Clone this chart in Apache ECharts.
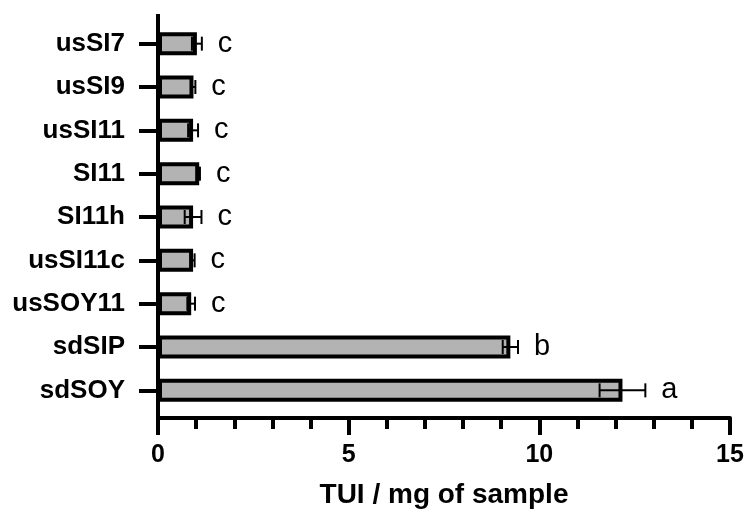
<!DOCTYPE html>
<html>
	<head>
		<meta charset="utf-8" />
		<title>TUI</title>
		<script src="https://cdn.jsdelivr.net/npm/echarts@6/dist/echarts.min.js"></script>
		<style>
			body { margin: 0; background: #fff; }
		</style>
	</head>
	<body>
		<div id="chart" style="width:747px;height:514px;"></div>
	</body>
	<script type="text/javascript">
	// samples, top to bottom
	var samples = ['usSI7', 'usSI9', 'usSI11', 'SI11', 'SI11h', 'usSI11c', 'usSOY11', 'sdSIP', 'sdSOY'];
	// TUI / mg of sample
	var means = [1.02, 0.93, 0.92, 1.08, 0.92, 0.92, 0.87, 9.24, 12.18];
	var errs = [0.13, 0.05, 0.13, 0.02, 0.22, 0.04, 0.10, 0.20, 0.60];
	var letters = ['c', 'c', 'c', 'c', 'c', 'c', 'c', 'b', 'a'];

	var font = '"Liberation Sans", Arial, sans-serif';

	var errData = [];
	for (var i = 0; i < samples.length; i++) {
		errData.push([i, means[i] - errs[i], means[i] + errs[i]]);
	}

	var myChart = echarts.init(document.getElementById('chart'));
	var option = {
		animation: false,
		grid: {
			left: 158,
			right: 17,
			top: 22,
			bottom: 101
		},
		xAxis: {
			type: 'value',
			min: 0,
			max: 15,
			interval: 5,
			offset: 6,
			name: 'TUI / mg of sample',
			nameLocation: 'middle',
			nameGap: 63,
			nameTextStyle: { fontFamily: font, fontWeight: 'bold', fontSize: 28, color: '#000' },
			axisLine: { show: true, lineStyle: { color: '#000', width: 4 } },
			axisTick: { show: true, length: 17, lineStyle: { color: '#000', width: 4 } },
			minorTick: { show: true, splitNumber: 5, length: 11, lineStyle: { color: '#000', width: 4 } },
			axisLabel: { fontFamily: font, fontWeight: 'bold', fontSize: 25, color: '#000', margin: 25 },
			splitLine: { show: false }
		},
		yAxis: {
			type: 'category',
			inverse: true,
			data: samples,
			axisLine: { show: false },
			axisTick: { show: true, length: 19, alignWithLabel: true, lineStyle: { color: '#000', width: 4 } },
			axisLabel: { fontFamily: font, fontWeight: 'bold', fontSize: 26, color: '#000', margin: 33 }
		},
		graphic: [
			{
				// y axis line runs a bit past the category bands, like the original plot
				type: 'line',
				shape: { x1: 158, y1: 14, x2: 158, y2: 421 },
				style: { stroke: '#000', lineWidth: 4 },
				z: 100
			}
		],
		series: [
			{
				type: 'bar',
				data: means,
				barWidth: 23,
				itemStyle: { color: '#b3b3b3', borderColor: '#000', borderWidth: 4 }
			},
			{
				type: 'custom',
				data: errData,
				encode: { x: [1, 2], y: 0 },
				z: 10,
				renderItem: function (params, api) {
					var idx = api.value(0);
					var lo = api.coord([api.value(1), idx]);
					var hi = api.coord([api.value(2), idx]);
					var h = 7;
					var st = { stroke: '#000', lineWidth: 2 };
					return {
						type: 'group',
						children: [
							{ type: 'line', shape: { x1: lo[0], y1: lo[1], x2: hi[0], y2: hi[1] }, style: st },
							{ type: 'line', shape: { x1: lo[0], y1: lo[1] - h, x2: lo[0], y2: lo[1] + h }, style: st },
							{ type: 'line', shape: { x1: hi[0], y1: hi[1] - h, x2: hi[0], y2: hi[1] + h }, style: st },
							{
								type: 'text',
								x: hi[0] + 16,
								y: hi[1],
								style: {
									text: letters[params.dataIndex],
									fontFamily: font,
									fontSize: 29,
									fill: '#000',
									align: 'left',
									verticalAlign: 'middle'
								}
							}
						]
					};
				}
			}
		]
	};
	myChart.setOption(option);
	</script>
</html>
